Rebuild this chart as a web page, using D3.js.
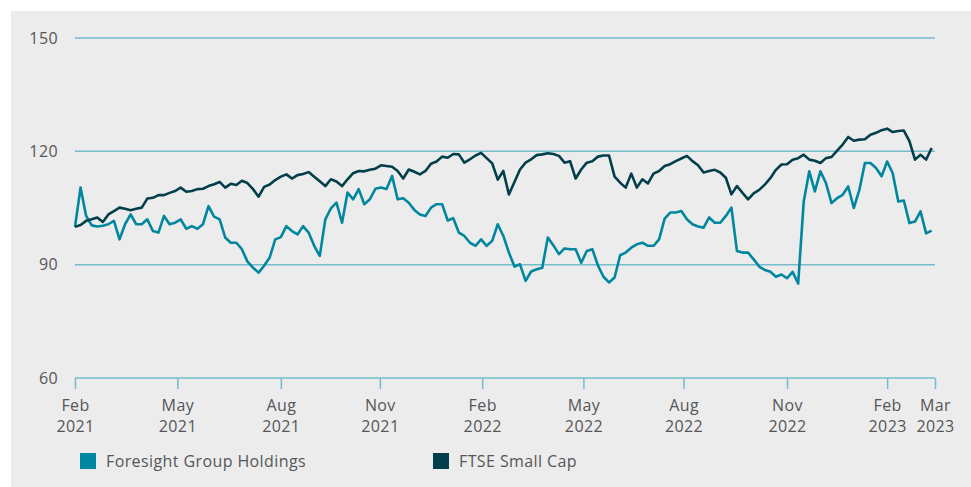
<!DOCTYPE html>
<html>
<head>
<meta charset="utf-8">
<script src="https://cdnjs.cloudflare.com/ajax/libs/d3/7.8.5/d3.min.js"></script>
<style>
body { margin: 0; background: #fff; }
text { font-family: "Open Sans", sans-serif; fill: #555658; letter-spacing: 0.4px; }
</style>
</head>
<body>
<div id="chart"></div>
<script>
// one value every 5 calendar days, starting 1 Feb 2021 (rebased to 100)
var startDate = new Date(2021, 1, 1);
var endDate = new Date(2023, 2, 16);

var foresight = [100, 110.4, 102.9, 100.4, 100.1, 100.3, 100.7, 101.6, 96.7, 100.7,
     103.3, 100.7, 100.7, 102, 98.9, 98.5, 102.9, 100.7, 101.1, 102,
     99.5, 100.2, 99.5, 100.7, 105.5, 102.7, 102, 97.2, 95.8, 95.8,
     94.1, 90.8, 89.2, 87.9, 89.7, 91.9, 96.7, 97.3, 100.2, 98.9,
     98, 100.2, 98.5, 95, 92.3, 102, 104.9, 106.4, 101.1, 109.1,
     107.3, 110, 106, 107.3, 110.1, 110.4, 110, 113.5, 107.3, 107.6,
     106.4, 104.5, 103.3, 102.9, 105.1, 106, 106, 101.7, 102.3, 98.5,
     97.6, 95.8, 95, 96.7, 95, 96.3, 100.7, 97.6, 93.2, 89.5,
     90.1, 85.7, 88.2, 88.8, 89.2, 97.2, 95.1, 92.8, 94.3, 94.1,
     94.1, 90.5, 93.6, 94.1, 89.8, 86.8, 85.3, 86.6, 92.5, 93.2,
     94.5, 95.4, 95.8, 95, 95, 96.7, 102.2, 103.8, 103.8, 104.2,
     102, 100.7, 100.1, 99.8, 102.5, 101.1, 101.1, 102.9, 105.1, 93.6,
     93.2, 93.2, 91.4, 89.5, 88.6, 88.1, 86.8, 87.4, 86.4, 88.1,
     85, 106.7, 114.7, 109.4, 114.7, 111.6, 106.3, 107.6, 108.5, 110.7,
     105, 109.8, 116.9, 116.9, 115.6, 113.4, 117.3, 114.2, 106.7, 107,
     101, 101.4, 104.1, 98.3, 99];

var ftseSmallCap = [100, 100.5, 101.6, 102, 102.5, 101.3, 103.3, 104.2, 105.1, 104.8,
     104.4, 104.8, 105.1, 107.5, 107.7, 108.4, 108.4, 109, 109.5, 110.4,
     109.3, 109.5, 110, 110.1, 110.8, 111.3, 111.9, 110.4, 111.4, 111.1,
     112.2, 111.6, 110, 108, 110.6, 111.2, 112.4, 113.3, 113.9, 112.8,
     113.7, 114, 114.5, 113.3, 112.1, 110.8, 112.6, 112, 110.8, 112.6,
     114.2, 114.8, 114.7, 115.1, 115.4, 116.3, 116.1, 115.9, 114.8, 112.8,
     115.2, 114.6, 113.9, 114.8, 116.7, 117.3, 118.6, 118.3, 119.3, 119.2,
     117, 117.9, 118.9, 119.6, 118.2, 116.8, 112.5, 114.8, 108.6, 111.9,
     115.2, 117, 117.9, 119, 119.2, 119.5, 119.3, 118.8, 117, 117.4,
     112.8, 115.2, 117, 117.4, 118.6, 118.9, 118.9, 113.3, 111.7, 110.4,
     114.1, 110.4, 112.6, 111.5, 114.1, 114.8, 116.1, 116.6, 117.4, 118.1,
     118.8, 117.4, 116.3, 114.4, 114.8, 115.1, 114.4, 113, 108.6, 110.8,
     109, 107.3, 108.9, 109.8, 111.2, 112.9, 115.1, 116.5, 116.6, 117.8,
     118.2, 119.1, 117.8, 117.5, 116.9, 118.2, 118.5, 120.2, 121.8, 123.8,
     122.8, 123.1, 123.2, 124.4, 124.9, 125.6, 126, 125.1, 125.4, 125.5,
     122.7, 117.8, 119.1, 117.8, 120.9];

var yTicks = [60, 90, 120, 150];
var xTickDates = ["2021-02-01", "2021-05-04", "2021-08-05", "2021-11-02", "2022-02-02",
     "2022-05-04", "2022-08-02", "2022-11-03", "2023-02-01", "2023-03-16"];
var seriesNames = ["Foresight Group Holdings", "FTSE Small Cap"];
var seriesColors = ["#00879f", "#023f4a"];

var width = 971, height = 487;
var margin = {top: 38, right: 36, bottom: 109, left: 75};

var svg = d3.select("#chart")
.append("svg")
.attr("width", width)
.attr("height", height);

// grey panel behind everything
svg.append("rect")
.attr("x", 11).attr("y", 11)
.attr("width", width - 11).attr("height", height - 11)
.attr("fill", "#ececec");

var dates = foresight.map(function(d, i) { return d3.timeDay.offset(startDate, i * 5); });
var parseDay = d3.timeParse("%Y-%m-%d");

var x = d3.scaleTime()
.domain([startDate, endDate])
.range([margin.left, width - margin.right]);

var y = d3.scaleLinear()
.domain([60, 150])
.range([height - margin.bottom, margin.top]);

// horizontal grid lines (the 60 one doubles as the x axis)
svg.selectAll(".grid")
.data(yTicks)
.enter()
.append("line")
.attr("x1", x.range()[0])
.attr("x2", x.range()[1])
.attr("y1", function(d) { return y(d); })
.attr("y2", function(d) { return y(d); })
.style("stroke", "#74bccc")
.style("stroke-width", 1.5);

svg.selectAll(".ylab")
.data(yTicks)
.enter()
.append("text")
.attr("x", 58)
.attr("y", function(d) { return y(d); })
.attr("dy", "0.35em")
.attr("text-anchor", "end")
.style("font-size", "16px")
.text(function(d) { return d; });

// x axis ticks + two-line labels
var xAxis = d3.axisBottom(x)
.tickValues(xTickDates.map(parseDay))
.tickSize(11)
.tickSizeOuter(0)
.tickFormat("");

var gx = svg.append("g")
.attr("transform", "translate(0," + y(60) + ")")
.call(xAxis);
gx.select(".domain").remove();
gx.selectAll(".tick line").style("stroke", "#74bccc").style("stroke-width", 1.5);

var labels = gx.selectAll(".tick").append("text")
.attr("text-anchor", "middle")
.style("font-size", "16px");
labels.append("tspan").attr("x", 0).attr("y", 33)
.text(function(d) { return d3.timeFormat("%b")(d); });
labels.append("tspan").attr("x", 0).attr("y", 54)
.text(function(d) { return d3.timeFormat("%Y")(d); });

// the two lines
var line = d3.line()
.x(function(d, i) { return x(dates[i]); })
.y(function(d) { return y(d); });

[foresight, ftseSmallCap].forEach(function(series, k) {
     svg.append("path")
     .datum(series)
     .attr("d", line)
     .style("fill", "none")
     .style("stroke", seriesColors[k])
     .style("stroke-width", 2.6)
     .style("stroke-linejoin", "round");
});

// legend
var legend = svg.selectAll(".legend")
.data(seriesNames)
.enter()
.append("g")
.attr("transform", function(d, i) { return "translate(" + (80 + i * 353) + ",453)"; });
legend.append("rect")
.attr("width", 16).attr("height", 16)
.attr("fill", function(d, i) { return seriesColors[i]; });
legend.append("text")
.attr("x", 26).attr("y", 8)
.attr("dy", "0.35em")
.style("font-size", "16px")
.text(function(d) { return d; });
</script>
</body>
</html>
